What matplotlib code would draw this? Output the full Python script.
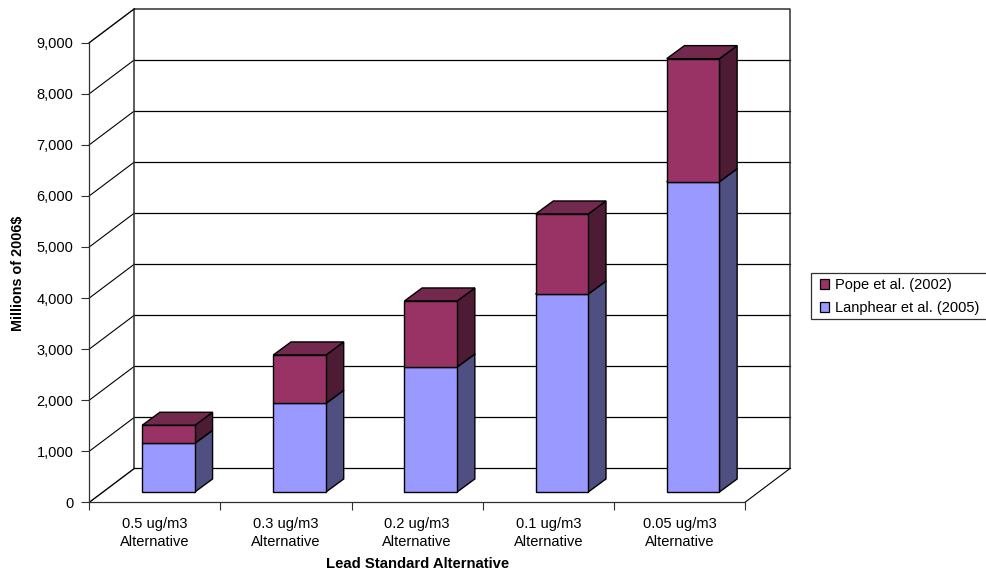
import matplotlib
matplotlib.use('Agg')
import matplotlib.pyplot as plt
from matplotlib.patches import Polygon, Patch, Rectangle
from matplotlib.ticker import FuncFormatter

plt.rcParams['font.family'] = ['Liberation Sans', 'DejaVu Sans']

categories = ['0.5 ug/m3\nAlternative', '0.3 ug/m3\nAlternative', '0.2 ug/m3\nAlternative',
              '0.1 ug/m3\nAlternative', '0.05 ug/m3\nAlternative']
lanphear = [954, 1737, 2448, 3877, 6076]
pope = [352, 946, 1292, 1566, 2409]
y_ticks = [0, 1000, 2000, 3000, 4000, 5000, 6000, 7000, 8000, 9000]

# pixel layout of the front axes
W, H = 987, 575
X0, X_CAT = 89.3, 131.14
Y0, Y_UNIT = 502.3, 0.05107

# pseudo 3d offsets, in category units and value units
WALL_DX, WALL_DY = 0.343, 662
BAR_OFF_X, BAR_OFF_Y = 0.104, 202
BAR_W = 0.402
BAR_DX, BAR_DY = 0.135, 255

FS = 10.5

fig = plt.figure(figsize=(W / 100, H / 100), dpi=100)
ax = fig.add_axes([0, 0, 1, 1])
ax.set_xlim(-X0 / X_CAT, (W - X0) / X_CAT)
ax.set_ylim((Y0 - H) / Y_UNIT, Y0 / Y_UNIT)
ax.patch.set_visible(False)

n = len(categories)
top = y_ticks[-1]

# back wall, side wall and floor
for v in y_ticks[1:-1]:
    ax.plot([WALL_DX, n + WALL_DX], [v + WALL_DY, v + WALL_DY], color='black', lw=0.9, zorder=1)
    ax.plot([0, WALL_DX], [v, v + WALL_DY], color='black', lw=0.8, zorder=1)
ax.plot([WALL_DX, n + WALL_DX], [WALL_DY, WALL_DY], color='black', lw=0.9, zorder=1)
ax.plot([WALL_DX, WALL_DX, n + WALL_DX, n + WALL_DX],
        [WALL_DY, top + WALL_DY, top + WALL_DY, WALL_DY], color='#303030', lw=1.1, zorder=1)
ax.plot([0, WALL_DX], [0, WALL_DY], color='black', lw=1.0, zorder=1)
ax.plot([0, WALL_DX], [top, top + WALL_DY], color='black', lw=1.0, zorder=1)
ax.plot([n, n + WALL_DX], [0, WALL_DY], color='black', lw=0.8, zorder=1)


def draw_box(i, low, high, front, side, roof):
    x1 = i + (1 - BAR_W) / 2 + BAR_OFF_X
    x2 = x1 + BAR_W
    y1 = low + BAR_OFF_Y
    y2 = high + BAR_OFF_Y
    faces = [
        ([(x2, y1), (x2 + BAR_DX, y1 + BAR_DY), (x2 + BAR_DX, y2 + BAR_DY), (x2, y2)], side),
        ([(x1, y2), (x2, y2), (x2 + BAR_DX, y2 + BAR_DY), (x1 + BAR_DX, y2 + BAR_DY)], roof),
        ([(x1, y1), (x2, y1), (x2, y2), (x1, y2)], front),
    ]
    for pts, col in faces:
        ax.add_patch(Polygon(pts, closed=True, facecolor=col, edgecolor='black',
                             lw=1.0, joinstyle='miter', zorder=3))


for i in range(n):
    draw_box(i, 0, lanphear[i], '#9999FF', '#4F4F82', '#7373BF')
    draw_box(i, lanphear[i], lanphear[i] + pope[i], '#993366', '#4E1B35', '#73294D')

# front axes
for s in ['top', 'right']:
    ax.spines[s].set_visible(False)
ax.spines['left'].set_position(('data', 0))
ax.spines['left'].set_bounds(0, top)
ax.spines['bottom'].set_position(('data', 0))
ax.spines['bottom'].set_bounds(0, n)
for s in ['left', 'bottom']:
    ax.spines[s].set_color('#303030')
    ax.spines[s].set_linewidth(0.9)

ax.set_yticks(y_ticks)
ax.yaxis.set_major_formatter(FuncFormatter(lambda v, p: format(int(v), ',')))
ax.tick_params(axis='y', length=5.8, width=0.8, color='#303030', labelsize=FS, pad=5.5, labelcolor='black')
ax.set_xticks(range(n + 1))
ax.set_xticklabels([])
ax.tick_params(axis='x', which='major', length=5.8, width=0.8, color='#303030')
ax.set_xticks([i + 0.5 for i in range(n)], minor=True)
ax.set_xticklabels(categories, minor=True, fontsize=FS, linespacing=1.32)
ax.tick_params(axis='x', which='minor', length=0, pad=10.6, labelcolor='black')

ax.text(18 / W, 1 - 273 / H, 'Millions of 2006$', transform=ax.transAxes, rotation=90,
        ha='center', va='center', fontsize=10.4, fontweight='bold')
ax.text(417.5 / W, 1 - 563.5 / H, 'Lead Standard Alternative', transform=ax.transAxes,
        ha='center', va='center', fontsize=10.7, fontweight='bold')

# legend box is drawn separately so its padding can differ per side
ax.add_patch(Rectangle((810.7 / W, 1 - 319.3 / H), 176 / W, 46.6 / H, transform=ax.transAxes,
                       facecolor='white', edgecolor='#303030', lw=0.9, clip_on=False, zorder=4))
handles = [Patch(facecolor='#993366', edgecolor='black', lw=0.9, label='Pope et al. (2002)'),
           Patch(facecolor='#9999FF', edgecolor='black', lw=0.9, label='Lanphear et al. (2005)')]
leg = ax.legend(handles=handles, loc='upper left', bbox_to_anchor=(820 / W, 1 - 278 / H),
                bbox_transform=ax.transAxes, fontsize=FS, frameon=False,
                handlelength=0.65, handleheight=0.65, handletextpad=0.35,
                labelspacing=0.62, borderpad=0, borderaxespad=0)
leg.set_zorder(5)

fig.savefig('out.png', dpi=100)
